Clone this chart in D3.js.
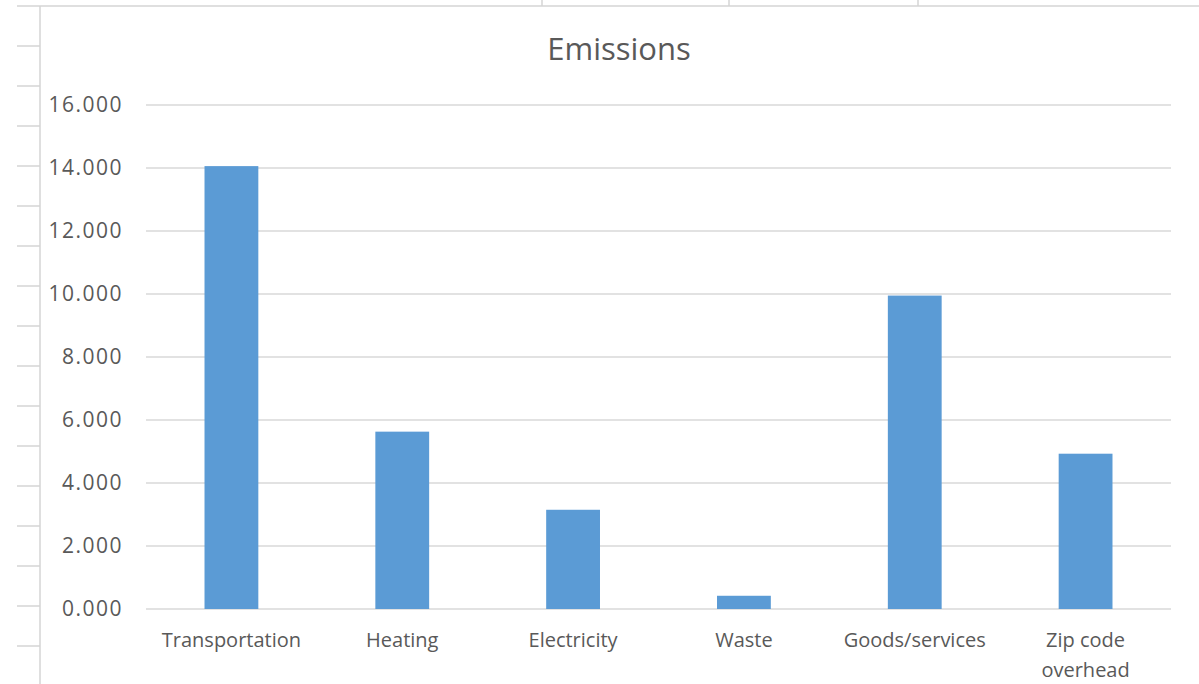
<!DOCTYPE html>
<html>
<head>
<meta charset="utf-8">
<script src="https://cdn.jsdelivr.net/npm/d3@7"></script>
<style>
    body { margin: 0; background: #fff; }
    svg { display: block; font-family: "Open Sans", sans-serif; }
</style>
</head>
<body>
<svg id="chart" width="1199" height="684"></svg>
<script>
// chart data
const categories = ["Transportation", "Heating", "Electricity", "Waste", "Goods/services", "Zip code overhead"];
const emissions = [14.06, 5.63, 3.15, 0.42, 9.95, 4.93];
const yTicks = [0, 2, 4, 6, 8, 10, 12, 14, 16];
const yTickLabels = ["0.000", "2.000", "4.000", "6.000", "8.000", "10.000", "12.000", "14.000", "16.000"];

const svg = d3.select("#chart");

// spreadsheet grid behind the chart object
const sheet = svg.append("g").attr("stroke", "#d4d4d4").attr("stroke-width", 1.5);
sheet.append("line").attr("x1", 17).attr("x2", 1199).attr("y1", 6).attr("y2", 6);
[542, 729, 918].forEach(x => {
    sheet.append("line").attr("x1", x).attr("x2", x).attr("y1", 0).attr("y2", 6);
});
d3.range(46, 684, 40).forEach(y => {
    sheet.append("line").attr("x1", 17).attr("x2", 40).attr("y1", y).attr("y2", y);
});
sheet.append("line").attr("x1", 40).attr("x2", 40).attr("y1", 6).attr("y2", 684);

const margin = { top: 105, left: 146, right: 1171, bottom: 609 };

const x = d3.scaleBand()
    .domain(categories)
    .range([margin.left, margin.right])
    .paddingInner(0.685)
    .paddingOuter(0.3425);

const y = d3.scaleLinear()
    .domain([0, 16])
    .range([margin.bottom, margin.top]);

// title
svg.append("text")
    .attr("x", 619)
    .attr("y", 60)
    .attr("text-anchor", "middle")
    .attr("font-size", 31)
    .attr("fill", "#595959")
    .text("Emissions");

// gridlines
svg.append("g")
    .selectAll("line")
    .data(yTicks)
    .enter()
    .append("line")
    .attr("x1", margin.left)
    .attr("x2", margin.right)
    .attr("y1", d => y(d))
    .attr("y2", d => y(d))
    .attr("stroke", "#d9d9d9")
    .attr("stroke-width", 1.5);

// y axis labels
const yAxis = svg.append("g")
    .attr("transform", `translate(${margin.left - 23},0)`)
    .call(d3.axisLeft(y).tickValues(yTicks).tickSize(0).tickFormat((d, i) => yTickLabels[i]));
yAxis.select(".domain").remove();
yAxis.selectAll("text")
    .attr("x", 0)
    .attr("font-family", "'Open Sans', sans-serif")
    .attr("font-size", 21)
    .attr("letter-spacing", 1.5)
    .attr("fill", "#595959");

// bars
svg.selectAll(".bar")
    .data(categories)
    .enter()
    .append("rect")
    .attr("class", "bar")
    .attr("x", d => x(d))
    .attr("y", (d, i) => y(emissions[i]))
    .attr("width", x.bandwidth())
    .attr("height", (d, i) => y(0) - y(emissions[i]))
    .attr("fill", "#5b9bd5");

// category labels, wrapping the long one
const xLabels = svg.append("g")
    .selectAll("text")
    .data(categories)
    .enter()
    .append("text")
    .attr("x", d => x(d) + x.bandwidth() / 2)
    .attr("y", 647)
    .attr("text-anchor", "middle")
    .attr("font-size", 20)
    .attr("fill", "#595959");

xLabels.each(function(d) {
    const t = d3.select(this);
    const cx = x(d) + x.bandwidth() / 2;
    if (d === "Zip code overhead") {
        t.append("tspan").attr("x", cx).text("Zip code");
        t.append("tspan").attr("x", cx).attr("dy", 30).text("overhead");
    } else {
        t.text(d);
    }
});
</script>
</body>
</html>
